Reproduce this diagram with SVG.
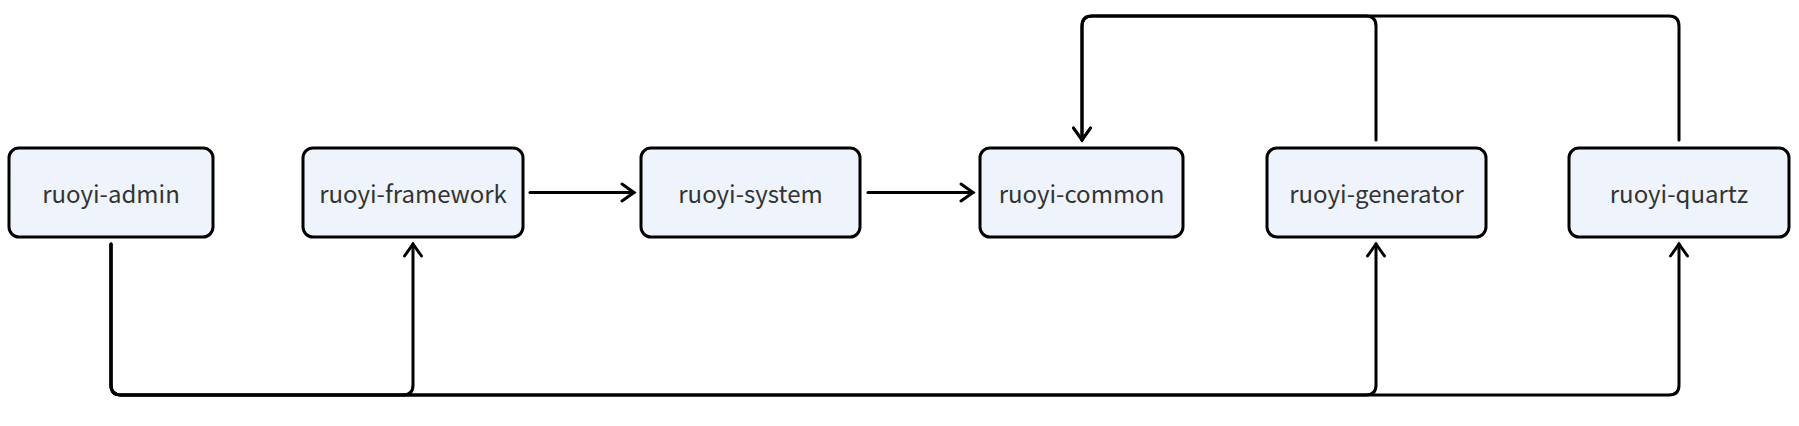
<svg xmlns="http://www.w3.org/2000/svg" width="1799" height="426" viewBox="0 0 1799 426">
<style>
.node rect{fill:#EEF3FC;stroke:#000;stroke-width:3}
.node text{font-family:"Noto Sans CJK SC","Noto Sans",sans-serif;font-size:24px;fill:#333;text-anchor:middle;dominant-baseline:central}
.edge{fill:none;stroke:#000;stroke-width:3;stroke-linecap:round;stroke-linejoin:round;marker-end:url(#arr)}
</style>
<defs>
<marker id="arr" markerUnits="userSpaceOnUse" viewBox="-15 -11 18 22" refX="0" refY="0" markerWidth="18" markerHeight="22" orient="auto">
<path d="M-12,-8.5 L0,0 L-12,8.5" fill="none" stroke="#000" stroke-width="3" stroke-linecap="round" stroke-linejoin="miter"/>
</marker>
</defs>
<rect width="1799" height="426" fill="#fff"/>
<g id="connectors">
<path class="edge" d="M530,192.5 H634"/>
<path class="edge" d="M868,192.5 H973"/>
<path class="edge" d="M111,244 V385 Q111,395 121,395 H403 Q413,395 413,385 V244"/>
<path class="edge" d="M111,244 V385 Q111,395 121,395 H1366 Q1376,395 1376,385 V244"/>
<path class="edge" d="M111,244 V385 Q111,395 121,395 H1669 Q1679,395 1679,385 V244"/>
<path class="edge" d="M1376,140 V26 Q1376,16 1366,16 H1092 Q1082,16 1082,26 V140"/>
<path class="edge" d="M1679,140 V26 Q1679,16 1669,16 H1092 Q1082,16 1082,26 V140"/>
</g>
<g id="ruoyi-admin" class="node"><rect x="9" y="148" width="204" height="89" rx="10"/><text x="111" y="192.5">ruoyi-admin</text></g>
<g id="ruoyi-framework" class="node"><rect x="303" y="148" width="220" height="89" rx="10"/><text x="413" y="192.5">ruoyi-framework</text></g>
<g id="ruoyi-system" class="node"><rect x="641" y="148" width="219" height="89" rx="10"/><text x="750.5" y="192.5">ruoyi-system</text></g>
<g id="ruoyi-common" class="node"><rect x="980" y="148" width="203" height="89" rx="10"/><text x="1081.5" y="192.5">ruoyi-common</text></g>
<g id="ruoyi-generator" class="node"><rect x="1267" y="148" width="219" height="89" rx="10"/><text x="1376.5" y="192.5">ruoyi-generator</text></g>
<g id="ruoyi-quartz" class="node"><rect x="1569" y="148" width="220" height="89" rx="10"/><text x="1679" y="192.5">ruoyi-quartz</text></g>
</svg>
